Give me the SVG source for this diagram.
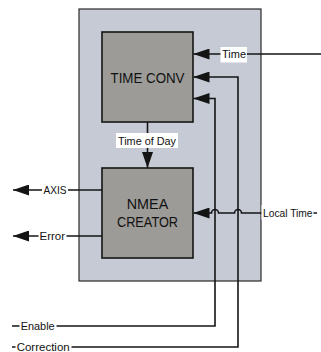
<svg xmlns="http://www.w3.org/2000/svg" width="321" height="352" viewBox="0 0 321 352">
<defs>
<style>
.wire{fill:none;stroke:#141414;stroke-width:1.6}
.blk{fill:#9c9b98;stroke:#141414;stroke-width:1.6}
.outer{fill:#c6cad4;stroke:#2a2a2a;stroke-width:1.2}
.lbl{font-family:"Liberation Sans",Arial,sans-serif;font-size:11.5px;fill:#111}
.big{font-family:"Liberation Sans",Arial,sans-serif;font-size:14px;fill:#111;text-anchor:middle}
.bg{fill:#ffffff}
</style>
<marker id="ah" markerUnits="userSpaceOnUse" markerWidth="16" markerHeight="11" refX="16" refY="5.5" orient="auto">
<path d="M0,0 L16,5.5 L0,11 z" fill="#141414"/>
</marker>
</defs>
<rect width="321" height="352" fill="#ffffff"/>
<g id="container">
<rect class="outer" x="79" y="9" width="182" height="272"/>
</g>
<g id="connectors">
<path class="wire" d="M321,54 H193.5" marker-end="url(#ah)"/>
<path class="wire" d="M12,347 H238 V77 H193.5" marker-end="url(#ah)"/>
<path class="wire" d="M12,326 H215 V98.5 H193.5" marker-end="url(#ah)"/>
<path class="wire" d="M147.5,122 V168" marker-end="url(#ah)"/>
<path class="wire" d="M102,190 H13" marker-end="url(#ah)"/>
<path class="wire" d="M102,236 H13" marker-end="url(#ah)"/>
<path class="wire" d="M317,213 H241.5 A3.5,3.5 0 0 0 234.5,213 H218.5 A3.5,3.5 0 0 0 211.5,213 H193.5" marker-end="url(#ah)"/>
<rect class="bg" x="220.5" y="47" width="26.5" height="15.5"/>
<text class="lbl" x="222" y="58" textLength="24" lengthAdjust="spacingAndGlyphs">Time</text>
<rect class="bg" x="116" y="133" width="62" height="15"/>
<text class="lbl" x="118" y="144.5" textLength="58" lengthAdjust="spacingAndGlyphs">Time of Day</text>
<rect class="bg" x="42" y="183" width="26" height="14"/>
<text class="lbl" x="43.5" y="194" textLength="23" lengthAdjust="spacingAndGlyphs">AXIS</text>
<rect class="bg" x="38.5" y="229" width="28" height="14"/>
<text class="lbl" x="39.5" y="240" textLength="25.5" lengthAdjust="spacingAndGlyphs">Error</text>
<rect class="bg" x="261.5" y="205" width="52" height="15"/>
<text class="lbl" x="263" y="217" textLength="49.5" lengthAdjust="spacingAndGlyphs">Local Time</text>
<rect class="bg" x="19.5" y="318" width="37" height="15"/>
<text class="lbl" x="20.7" y="330" textLength="34" lengthAdjust="spacingAndGlyphs">Enable</text>
<rect class="bg" x="15.5" y="339" width="56" height="13"/>
<text class="lbl" x="16.7" y="350.5" textLength="53" lengthAdjust="spacingAndGlyphs">Correction</text>
</g>
<g id="time-conv">
<rect class="blk" x="102" y="32" width="91" height="90"/>
<text class="big" x="147.5" y="82.5" textLength="74" lengthAdjust="spacingAndGlyphs">TIME CONV</text>
</g>
<g id="nmea-creator">
<rect class="blk" x="102" y="168" width="91" height="90"/>
<text class="big" x="147.5" y="209" textLength="41.5" lengthAdjust="spacingAndGlyphs">NMEA</text>
<text class="big" x="147.5" y="226.5" textLength="61" lengthAdjust="spacingAndGlyphs">CREATOR</text>
</g>
</svg>
